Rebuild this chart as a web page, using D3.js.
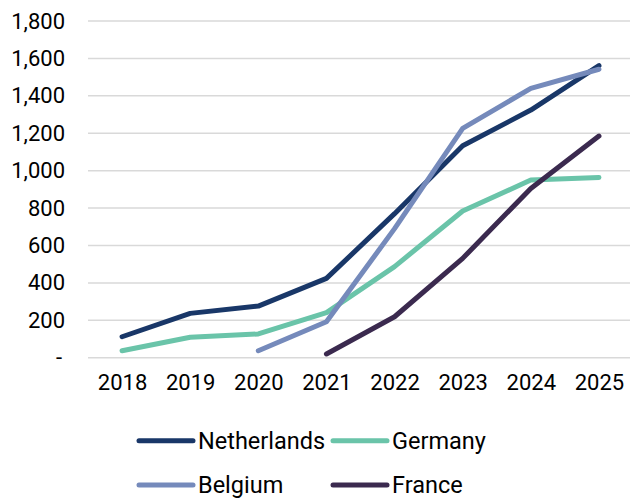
<!DOCTYPE html>
<html>
<head>
<meta charset="utf-8">
<script src="https://cdn.jsdelivr.net/npm/d3@7/dist/d3.min.js"></script>
<style>
  html, body { margin: 0; padding: 0; background: #fff; }
  svg { display: block; font-family: Roboto, "Noto Sans", sans-serif; }
</style>
</head>
<body>
<svg id="chart" width="630" height="501"></svg>
<script>
// Years on the x axis
const years = ["2018", "2019", "2020", "2021", "2022", "2023", "2024", "2025"];

// Series values per year (null = no data for that year)
const netherlands = [112, 237, 276, 424, 770, 1133, 1324, 1561];
const germany     = [37, 109, 127, 241, 487, 784, 950, 964];
const belgium     = [null, null, 37, 192, 690, 1226, 1440, 1542];
const france      = [null, null, null, 20, 219, 531, 905, 1185];

// Y axis ticks
const yTicks = [0, 200, 400, 600, 800, 1000, 1200, 1400, 1600, 1800];

const seriesNames  = ["Netherlands", "Germany", "Belgium", "France"];
const seriesValues = [netherlands, germany, belgium, france];
const seriesColors = ["#193768", "#6ac4a9", "#758abb", "#3b2a4f"];

const svg = d3.select("#chart");

const x = d3.scalePoint().domain(years).range([88, 633]).padding(0.5);
const y = d3.scaleLinear().domain([0, 1800]).range([357.7, 21]);

// Horizontal gridlines
svg.append("g")
  .selectAll("line")
  .data(yTicks)
  .join("line")
  .attr("x1", 88).attr("x2", 630)
  .attr("y1", d => y(d)).attr("y2", d => y(d))
  .attr("stroke", "#d9d9d9")
  .attr("stroke-width", 1.5);

// Y axis labels
const yAxis = d3.axisLeft(y)
  .tickValues(yTicks)
  .tickSize(0)
  .tickPadding(0)
  .tickFormat(d => d === 0 ? "-" : d3.format(",")(d));
const gy = svg.append("g").attr("transform", "translate(65,0)").call(yAxis);
gy.select(".domain").remove();
gy.selectAll("text")
  .attr("font-size", 22)
  .attr("fill", "#000")
  .attr("font-family", "Roboto, sans-serif");
gy.selectAll(".tick").filter(d => d === 0).select("text").attr("dx", -3);

// X axis labels
const xAxis = d3.axisBottom(x).tickSize(0).tickPadding(0);
const gx = svg.append("g").attr("transform", "translate(0,374)").call(xAxis);
gx.select(".domain").remove();
gx.selectAll("text")
  .attr("font-size", 22)
  .attr("fill", "#000")
  .attr("font-family", "Roboto, sans-serif");

// Lines
const line = d3.line()
  .defined(d => d.v !== null)
  .x(d => x(d.year))
  .y(d => y(d.v));

seriesValues.forEach((vals, i) => {
  const pts = years.map((yr, j) => ({ year: yr, v: vals[j] }));
  svg.append("path")
    .datum(pts)
    .attr("d", line)
    .attr("fill", "none")
    .attr("stroke", seriesColors[i])
    .attr("stroke-width", 5)
    .attr("stroke-linecap", "round")
    .attr("stroke-linejoin", "round");
});

// Legend (2 x 2)
const legendPos = [
  { x: 139, y: 440.7 },
  { x: 333, y: 440.7 },
  { x: 139, y: 485 },
  { x: 333, y: 485 }
];
const lg = svg.append("g")
  .selectAll("g")
  .data(seriesNames)
  .join("g")
  .attr("transform", (d, i) => `translate(${legendPos[i].x},${legendPos[i].y})`);
lg.append("line")
  .attr("x1", 0).attr("x2", 54)
  .attr("y1", 0).attr("y2", 0)
  .attr("stroke", (d, i) => seriesColors[i])
  .attr("stroke-width", 5)
  .attr("stroke-linecap", "round");
lg.append("text")
  .attr("x", 59)
  .attr("y", 0)
  .attr("dy", "0.35em")
  .attr("font-size", 23.5)
  .attr("fill", "#000")
  .text(d => d);
</script>
</body>
</html>
